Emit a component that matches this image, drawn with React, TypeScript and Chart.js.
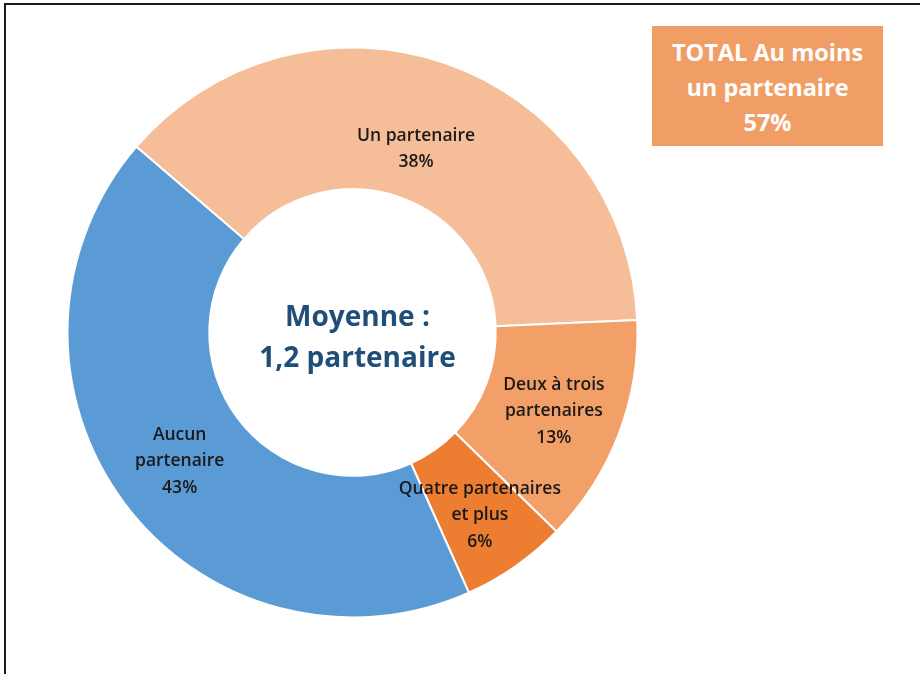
import React, { useEffect, useRef } from "react";
import { Chart, registerables } from "chart.js";

Chart.register(...registerables);

const categories: string[][] = [
  ["Un partenaire"],
  ["Deux à trois", "partenaires"],
  ["Quatre partenaires", "et plus"],
  ["Aucun", "partenaire"],
];
const values: number[] = [38, 13, 6, 43];
const colors: string[] = ["#F5BD98", "#F2A067", "#ED7D31", "#5B9BD5"];
const centerLines: string[] = ["Moyenne :", "1,2 partenaire"];
const totalLines: string[] = ["TOTAL Au moins", "un partenaire", "57%"];

const FONT = "'Open Sans', 'DejaVu Sans', sans-serif";

const labelPlugin = {
  id: "segLabels",
  afterDatasetsDraw(chart: any) {
    const ctx = chart.ctx;
    const meta = chart.getDatasetMeta(0);
    ctx.save();
    ctx.textAlign = "center";
    ctx.textBaseline = "middle";
    ctx.fillStyle = "#1A1A1A";
    ctx.font = `600 17.5px ${FONT}`;
    meta.data.forEach((arc: any, i: number) => {
      const props = arc.getProps(["startAngle", "endAngle", "innerRadius", "outerRadius", "x", "y"]);
      const mid = (props.startAngle + props.endAngle) / 2;
      const rFrac = i === 0 ? 0.36 : i === 2 ? 0.56 : 0.51;
      const r = props.innerRadius + (props.outerRadius - props.innerRadius) * rFrac;
      const px = props.x + Math.cos(mid) * r;
      const py = props.y + Math.sin(mid) * r + (i === 1 ? 2 : 0);
      const lines = [...categories[i], `${values[i]}%`];
      const lh = 26.5;
      const y0 = py - ((lines.length - 1) * lh) / 2;
      lines.forEach((t, j) => ctx.fillText(t, px, y0 + j * lh));
    });
    const a = meta.data[0];
    ctx.fillStyle = "#1F4E79";
    ctx.font = `bold 28px ${FONT}`;
    ctx.fillText(centerLines[0], a.x + 5, a.y - 14);
    ctx.fillText(centerLines[1], a.x + 5, a.y + 27);
    ctx.restore();
  },
};

export default function App() {
  const ref = useRef<HTMLCanvasElement | null>(null);
  useEffect(() => {
    if (!ref.current) return;
    const chart = new Chart(ref.current, {
      type: "doughnut",
      data: {
        labels: categories.map((c) => c.join(" ")),
        datasets: [
          {
            data: values,
            backgroundColor: colors,
            borderColor: "#FFFFFF",
            borderWidth: 2,
          },
        ],
      },
      options: {
        responsive: false,
        animation: false,
        rotation: -49.3,
        radius: 285,
        cutout: 143,
        layout: { padding: { left: 67, top: 47, right: 282, bottom: 56 } },
        plugins: {
          legend: { display: false },
          tooltip: { enabled: false },
        },
      },
      plugins: [labelPlugin],
    });
    return () => chart.destroy();
  }, []);

  return (
    <div style={{ position: "absolute", left: 0, top: 0, width: 920, height: 674, background: "#fff", overflow: "hidden" }}>
      <canvas ref={ref} width={920} height={674} style={{ position: "absolute", left: 0, top: 0 }} />
      <div
        style={{
          position: "absolute",
          left: 4,
          top: 3,
          width: 930,
          height: 700,
          borderLeft: "2px solid #1a1a1a",
          borderTop: "2px solid #1a1a1a",
          pointerEvents: "none",
        }}
      />
      <div
        style={{
          position: "absolute",
          left: 652,
          top: 26,
          width: 231,
          height: 120,
          background: "#F19E66",
          color: "#FFFFFF",
          fontFamily: FONT,
          fontWeight: 700,
          fontSize: 23.5,
          lineHeight: "35px",
          textAlign: "center",
          display: "flex",
          flexDirection: "column",
          justifyContent: "center",
          paddingTop: 2,
          boxSizing: "border-box",
        }}
      >
        {totalLines.map((t) => (
          <div key={t}>{t}</div>
        ))}
      </div>
    </div>
  );
}
